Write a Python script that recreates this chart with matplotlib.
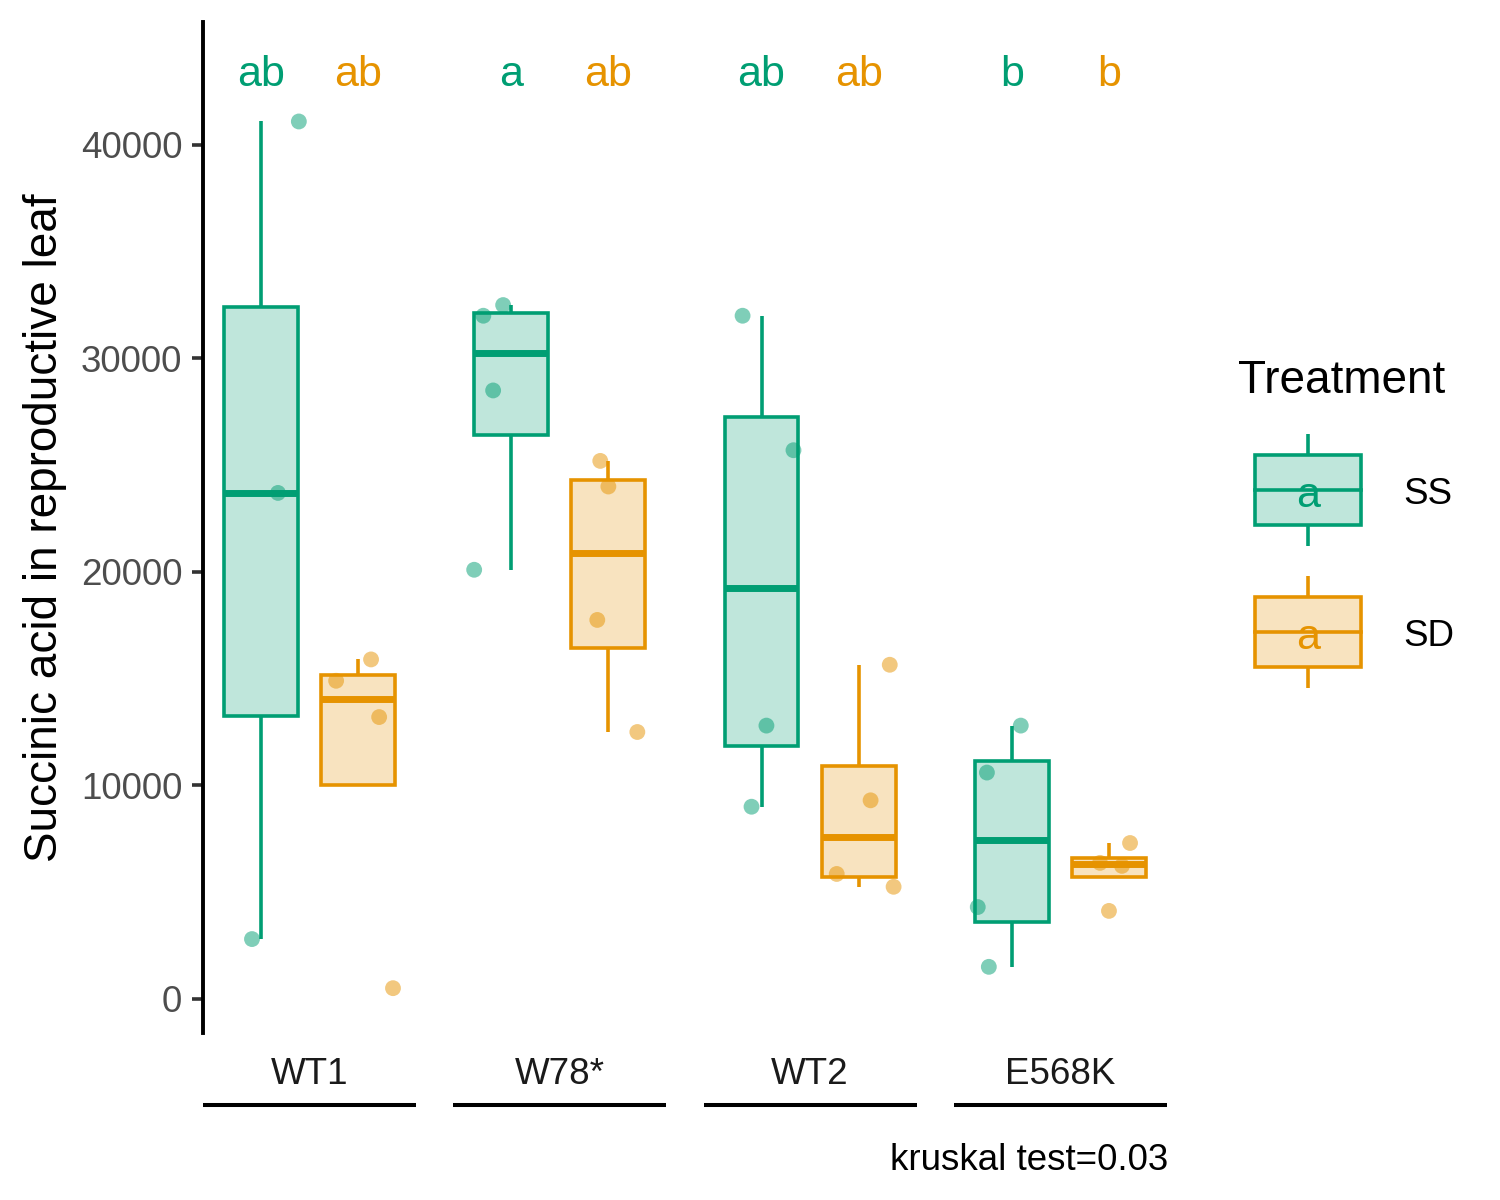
import numpy as np
import matplotlib.pyplot as plt
from matplotlib.patches import Rectangle
from matplotlib.colors import to_rgba

plt.rcParams['font.family'] = ['Liberation Sans', 'DejaVu Sans']

genotypes = ["WT1", "W78*", "WT2", "E568K"]
treatments = ["SS", "SD"]
colors = {"SS": "#009E73", "SD": "#E69300"}

# values per genotype
ss_values = [
    [41100, 23700, 2800],
    [32500, 32000, 28500, 20100],
    [32000, 25700, 12800, 9000],
    [12800, 10600, 4300, 1500],
]
sd_values = [
    [15900, 14900, 13200, 500],
    [25200, 24000, 17750, 12500],
    [15650, 9300, 5850, 5250],
    [7300, 6370, 6230, 4120],
]
# horizontal jitter of the points (fraction of a panel width)
ss_jitter = [
    [0.178, 0.080, -0.042],
    [-0.038, -0.131, -0.085, -0.174],
    [-0.089, 0.150, 0.023, -0.047],
    [0.042, -0.117, -0.160, -0.108],
]
sd_jitter = [
    [0.061, -0.103, 0.099, 0.164],
    [-0.038, 0.0, -0.052, 0.136],
    [0.146, 0.056, -0.103, 0.164],
    [0.099, -0.042, 0.061, 0.0],
]
letters_ss = ["ab", "a", "ab", "b"]
letters_sd = ["ab", "ab", "ab", "b"]
yticks = [0, 10000, 20000, 30000, 40000]
letter_y = 43270
caption = "kruskal test=0.03"

W, H = 1500, 1200
fig = plt.figure(figsize=(15, 12), dpi=100)

panel_left = 203
panel_w = 213
panel_step = 250.3
panel_top = 22
panel_bottom = 1033
offset = 0.228
box_w = 0.347
lw = 2.6

data = {"SS": (ss_values, ss_jitter, letters_ss), "SD": (sd_values, sd_jitter, letters_sd)}

for k, g in enumerate(genotypes):
    ax = fig.add_axes([(panel_left + panel_step * k) / W, 1 - panel_bottom / H,
                       panel_w / W, (panel_bottom - panel_top) / H])
    ax.set_xlim(0, 1)
    ax.set_ylim(-1600, 45760)
    ax.patch.set_alpha(0)
    for s in ["top", "right", "bottom"]:
        ax.spines[s].set_visible(False)
    ax.set_xticks([])
    if k == 0:
        ax.spines["left"].set_linewidth(2.8)
        ax.set_yticks(yticks)
        ax.set_yticklabels([str(t) for t in yticks])
        ax.tick_params(axis="y", length=8, width=2.6, color="#333333",
                       labelsize=26.5, labelcolor="#4D4D4D", pad=7)
        ax.set_ylabel("Succinic acid in reproductive leaf", fontsize=33, labelpad=10)
    else:
        ax.spines["left"].set_visible(False)
        ax.set_yticks([])

    for i, t in enumerate(treatments):
        vals, jit, lets = data[t]
        c = colors[t]
        pos = 0.5 - offset if t == "SS" else 0.5 + offset
        ax.scatter(pos + np.array(jit[k]), vals[k], s=130, color=c, alpha=0.5,
                   edgecolors="none", zorder=1)
        ax.boxplot(vals[k], positions=[pos], widths=box_w, patch_artist=True,
                   showfliers=False, showcaps=False, whis=1.5,
                   boxprops=dict(facecolor=to_rgba(c, 0.25), edgecolor=c, linewidth=lw),
                   whiskerprops=dict(color=c, linewidth=lw, solid_capstyle="butt"),
                   medianprops=dict(color=c, linewidth=5.0, solid_capstyle="butt"),
                   zorder=2)
        ax.text(pos, letter_y, lets[k], ha="center", va="center", color=c, fontsize=31)
    ax.set_xlim(0, 1)
    ax.set_xticks([])

    ax.text(0.5, (panel_bottom - 1074) / (panel_bottom - panel_top), g,
            transform=ax.transAxes, ha="center", va="center", fontsize=26.5, color="#1A1A1A")
    ax.plot([0, 1], [(panel_bottom - 1105) / (panel_bottom - panel_top)] * 2,
            transform=ax.transAxes, clip_on=False, color="black", lw=2.9,
            solid_capstyle="butt")

# legend drawn by hand in figure pixel space
ov = fig.add_axes([0, 0, 1, 1])
ov.set_xlim(0, W)
ov.set_ylim(H, 0)
ov.axis("off")
ov.patch.set_alpha(0)
ov.text(1238, 381, "Treatment", fontsize=33, ha="left", va="center")
for i, t in enumerate(treatments):
    c = colors[t]
    yc = 490 + 142 * i
    ov.plot([1308, 1308], [yc - 56, yc - 35], color=c, lw=lw, solid_capstyle="butt")
    ov.plot([1308, 1308], [yc + 35, yc + 56], color=c, lw=lw, solid_capstyle="butt")
    ov.add_patch(Rectangle((1255, yc - 35), 106, 70, facecolor=to_rgba(c, 0.25),
                           edgecolor=c, lw=lw))
    ov.plot([1255, 1361], [yc, yc], color=c, lw=lw)
    ov.text(1308, yc + 6, "a", color=c, fontsize=31, ha="center", va="center")
    ov.text(1403, yc + 5, t, fontsize=26.5, ha="left", va="center")

fig.text(1168 / W, 1 - 1160 / H, caption, fontsize=26.5, ha="right", va="center")

fig.savefig("out.png", dpi=100)
